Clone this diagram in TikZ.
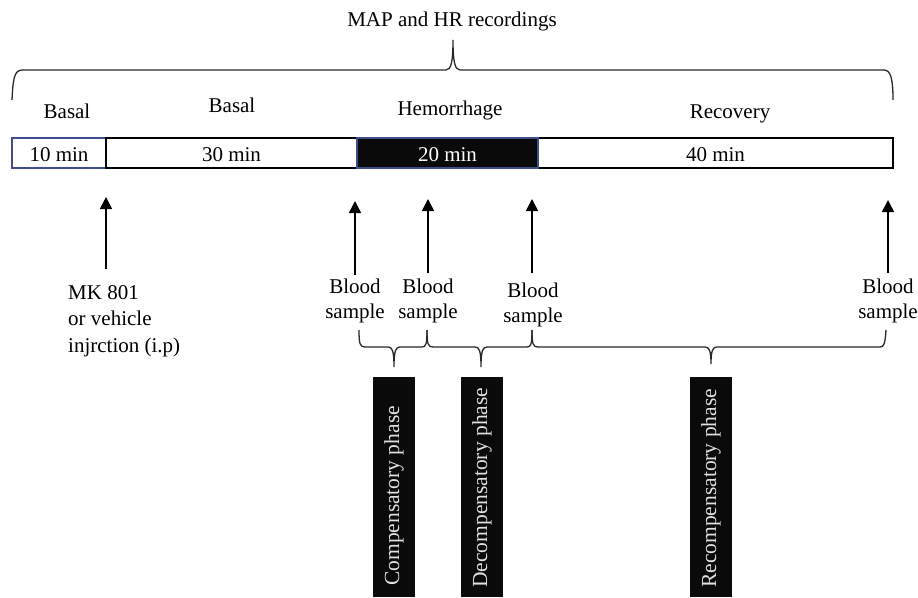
\documentclass[tikz,border=0pt]{standalone}
\usepackage{fontspec}
\setmainfont{Liberation Serif}
\usetikzlibrary{arrows.meta}
\definecolor{bordblue}{RGB}{60,78,140}
\definecolor{linegray}{RGB}{40,40,40}
\definecolor{boxblack}{RGB}{10,10,10}
\tikzset{
  txt/.style={font=\fontsize{21}{25}\selectfont, inner sep=0pt},
  seg/.style={draw=black, line width=1.2pt, minimum height=30pt, inner sep=0pt,
              text height=17pt, text depth=0pt, font=\fontsize{21}{25}\selectfont},
  upar/.style={line width=1.5pt, draw=black, -{Triangle[width=12pt,length=12pt]}},
  brace/.style={line width=1.3pt, draw=linegray},
  phasebox/.style={fill=boxblack, draw=none, minimum width=42pt, minimum height=220pt, inner sep=0pt},
  phasetxt/.style={font=\fontsize{21.5}{25}\selectfont, text=white!88!black, rotate=90, anchor=west, inner sep=0pt}
}
\begin{document}
\begin{tikzpicture}[x=1pt,y=-1pt]
\useasboundingbox (0,0) rectangle (918,597);
% title
\node[txt, anchor=base] (title) at (452,27) {MAP and HR recordings};
% top brace
\draw[brace] (12,100) .. controls (13,80) and (14,70) .. (22,70) -- (446,70)
  .. controls (451,70) and (453,62) .. (453,40)
  .. controls (453,62) and (455,70) .. (460,70) -- (884,70)
  .. controls (891,70) and (893,80) .. (893,100);
% phase labels
\node[txt, anchor=base] (basalA) at (67,118) {Basal};
\node[txt, anchor=base] (basalB) at (232,112) {Basal};
\node[txt, anchor=base] (hem) at (450,115) {Hemorrhage};
\node[txt, anchor=base] (rec) at (730,118) {Recovery};
% bar
\node[seg, draw=bordblue, minimum width=94pt] (s1) at (59,153) {10 min};
\node[seg, minimum width=251pt] (s2) at (231.5,153) {30 min};
\node[seg, minimum width=355pt] (s4) at (715.5,153) {40 min};
\node[seg, fill=boxblack, draw=bordblue, text=white, minimum width=181pt] (s3) at (447.5,153) {20 min};
% arrows
\coordinate (mkT) at (106,197); \coordinate (mkB) at (106,269);
\coordinate (b1T) at (355,201); \coordinate (b1B) at (355,275);
\coordinate (b2T) at (428,199); \coordinate (b2B) at (428,273);
\coordinate (b3T) at (532,199); \coordinate (b3B) at (532,273);
\coordinate (b4T) at (888,200); \coordinate (b4B) at (888,273);
\draw[upar] (mkB) -- (mkT);
\draw[upar] (b1B) -- (b1T);
\draw[upar] (b2B) -- (b2T);
\draw[upar] (b3B) -- (b3T);
\draw[upar] (b4B) -- (b4T);
% labels under arrows (base anchor = last line)
\node[txt, anchor=base west, align=left] (mk) at (68,352) {MK 801\\[1.5pt]or vehicle\\[1.5pt]injrction (i.p)};
\node[txt, anchor=base, align=center] (bs1) at (355,318) {Blood\\sample};
\node[txt, anchor=base, align=center] (bs2) at (428,318) {Blood\\sample};
\node[txt, anchor=base, align=center] (bs3) at (533,322) {Blood\\sample};
\node[txt, anchor=base, align=center] (bs4) at (888,318) {Blood\\sample};
% lower braces
\draw[brace] (359,330) .. controls (359,344) and (360,347) .. (365,347) -- (388,347)
  .. controls (392,347) and (394,350) .. (394,367)
  .. controls (394,350) and (396,347) .. (400,347) -- (422,347)
  .. controls (426,347) and (427,344) .. (427,330);
\draw[brace] (427,330) .. controls (427,344) and (428,347) .. (433,347) -- (475,347)
  .. controls (479,347) and (481,350) .. (481,367)
  .. controls (481,350) and (483,347) .. (487,347) -- (527,347)
  .. controls (531,347) and (532,344) .. (532,330);
\draw[brace] (532,330) .. controls (532,344) and (533,347) .. (538,347) -- (705,347)
  .. controls (709,347) and (711,350) .. (711,364)
  .. controls (711,350) and (713,347) .. (717,347) -- (880,347)
  .. controls (884,347) and (885,344) .. (886,330);
% phase boxes
\node[phasebox, anchor=north] (p1) at (394,377) {};
\node[phasebox, anchor=north] (p2) at (482,377) {};
\node[phasebox, anchor=north] (p3) at (711,377) {};
\node[phasetxt] (t1) at (394,586) {Compensatory phase};
\node[phasetxt] (t2) at (482,588) {Decompensatory phase};
\node[phasetxt] (t3) at (711,588) {Recompensatory phase};
\end{tikzpicture}
\end{document}
